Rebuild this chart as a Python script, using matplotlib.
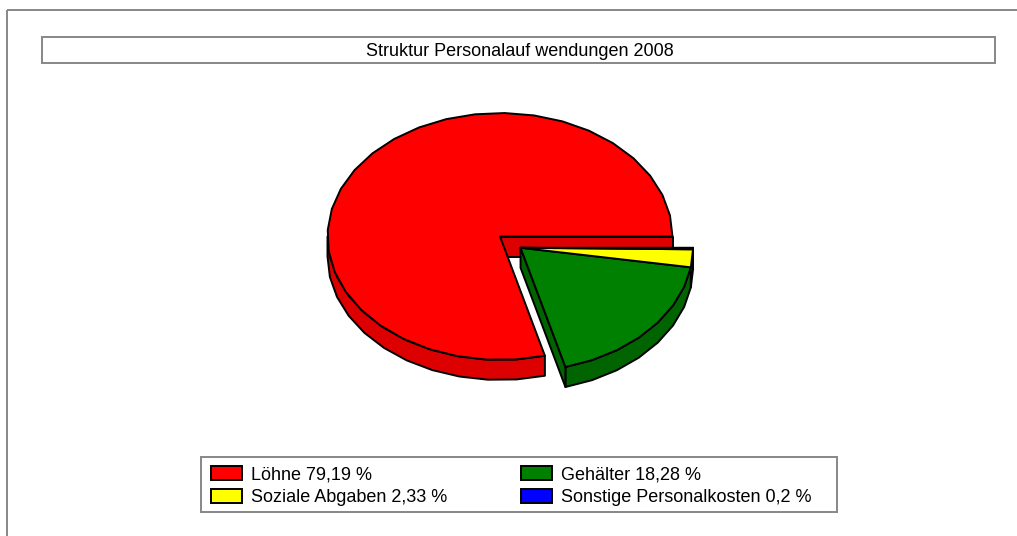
import numpy as np
import matplotlib
matplotlib.use('Agg')
import matplotlib.pyplot as plt
from matplotlib.patches import Polygon, Rectangle

# ---------------- data ----------------
title = "Struktur Personalauf wendungen 2008"
categories = ["Löhne", "Gehälter", "Soziale Abgaben", "Sonstige Personalkosten"]
values = [79.19, 18.28, 2.33, 0.2]
top_colors = ['#ff0000', '#008000', '#ffff00', '#0000ff']
side_colors = ['#dc0000', '#006400', '#c8c800', '#0000b4']
explode = [False, True, True, True]

plt.rcParams['font.family'] = ['Liberation Sans', 'DejaVu Sans']

W, H = 1017, 536
fig = plt.figure(figsize=(W / 100, H / 100), dpi=100)
ax = fig.add_axes([0, 0, 1, 1])
ax.set_xlim(0, W)
ax.set_ylim(H, 0)
ax.axis('off')

PT = 0.72  # 1 px in points at dpi 100
GRAY = '#8a8a8a'

# outer frame (top and left)
ax.plot([7, W], [10, 10], color=GRAY, lw=2 * PT, solid_capstyle='butt')
ax.plot([7, 7], [10, H], color=GRAY, lw=2 * PT, solid_capstyle='butt')

# title box
ax.add_patch(Rectangle((42, 37), 953, 26, facecolor='white', edgecolor=GRAY, lw=2 * PT))
ax.text(519.5, 56, title, ha='center', va='baseline', fontsize=13, color='black')

# ---------------- 3D pie ----------------
cx, cy = 500.0, 236.5
a, b = 172.5, 123.5
depth = 20.0
explode_dist = 0.15

vals = np.array(values, dtype=float)
fr = vals / vals.sum()
ends = np.cumsum(fr) * 360.0
starts = np.concatenate([[0.0], ends[:-1]])

grp = [i for i, e in enumerate(explode) if e]
rest = [i for i, e in enumerate(explode) if not e]
gmid = np.radians((starts[grp[0]] + ends[grp[-1]]) / 2.0)
off_x = explode_dist * a * np.cos(gmid)
off_y = -explode_dist * b * np.sin(gmid)


def pt(theta_deg, ox, oy, dz=0.0):
    t = np.radians(theta_deg)
    return (cx + ox + a * np.cos(t), cy + oy - b * np.sin(t) + dz)


def arc(s, e, ox, oy, dz=0.0, step=10.0):
    n = max(2, int(np.ceil((e - s) / step)) + 1)
    ths = np.linspace(s, e, n)
    return [pt(t, ox, oy, dz) for t in ths]


LW = 1.4
EC = 'black'


def poly(pts, fc, z):
    ax.add_patch(Polygon(pts, closed=True, facecolor=fc, edgecolor=EC, lw=LW,
                         joinstyle='round', zorder=z))


def draw_rim(i, ox, oy, z):
    s, e = starts[i], ends[i]
    rs, re_ = max(s, 180.0), min(e, 360.0)
    if re_ > rs:
        top = arc(rs, re_, ox, oy)
        bot = arc(rs, re_, ox, oy, depth)
        poly(top + bot[::-1], side_colors[i], z)


def draw_face(i, theta, ox, oy, z):
    apex = (cx + ox, cy + oy)
    apex_d = (cx + ox, cy + oy + depth)
    poly([apex, pt(theta, ox, oy), pt(theta, ox, oy, depth), apex_d], side_colors[i], z)


def draw_group(idx, ox, oy, z):
    for i in idx:
        draw_rim(i, ox, oy, z)
    s0, e0 = starts[idx[0]], ends[idx[-1]]
    # boundary cut faces of the (possibly multi-slice) solid group
    if np.cos(np.radians(s0)) > 0:
        draw_face(idx[0], s0, ox, oy, z)
    if np.cos(np.radians(e0)) < 0:
        draw_face(idx[-1], e0, ox, oy, z)
    for i in idx:
        poly([(cx + ox, cy + oy)] + arc(starts[i], ends[i], ox, oy), top_colors[i], z + 1)


draw_group(rest, 0.0, 0.0, 2)
draw_group(grp, off_x, off_y, 4)

# ---------------- legend ----------------
ax.add_patch(Rectangle((201, 457), 636, 55, facecolor='white', edgecolor=GRAY, lw=2 * PT, zorder=6))
col_x = [211, 521]
row_y = [465.5, 489.0]
for k, (cat, v) in enumerate(zip(categories, values)):
    r, c = divmod(k, 2)
    x0, y0 = col_x[c], row_y[r]
    ax.add_patch(Rectangle((x0, y0), 31, 14, facecolor=top_colors[k], edgecolor='black',
                           lw=1.4, zorder=7))
    lab = f"{cat} {format(v, 'g').replace('.', ',')} %"
    ax.text(x0 + 40, y0 + 13.5, lab, ha='left', va='baseline', fontsize=13, color='black', zorder=7)

fig.savefig('out.png', dpi=100, facecolor='white')
